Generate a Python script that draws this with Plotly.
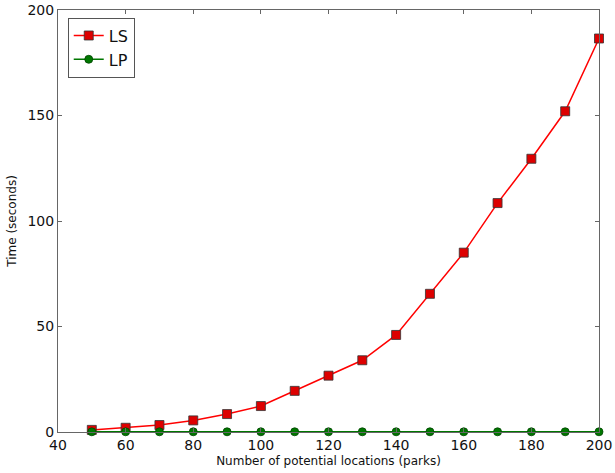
import plotly.graph_objects as go

x = [50, 60, 70, 80, 90, 100, 110, 120, 130, 140, 150, 160, 170, 180, 190, 200]
ls = [1.0, 2.0, 3.3, 5.5, 8.5, 12.3, 19.5, 26.7, 34.0, 46.0, 65.5, 85.0, 108.5, 129.5, 152.0, 186.5]
lp = [0.1] * 16

fig = go.Figure()
fig.add_trace(go.Scatter(x=x, y=ls, name="LS", mode="lines+markers",
                         line=dict(color="#ff0000", width=1.5),
                         marker=dict(symbol="square", size=9, color="#dd0000",
                                     line=dict(color="#333333", width=0.8)),
                         cliponaxis=False))
fig.add_trace(go.Scatter(x=x, y=lp, name="LP", mode="lines+markers",
                         line=dict(color="#007700", width=1.5),
                         marker=dict(symbol="circle", size=8, color="#007700",
                                     line=dict(color="#004400", width=0.8)),
                         cliponaxis=False))

axis_common = dict(showgrid=False, zeroline=False, showline=True, mirror="ticks",
                   linecolor="#666666", linewidth=1, ticks="inside", ticklen=4,
                   tickcolor="#666666", automargin=False,
                   tickfont=dict(family="DejaVu Sans", size=14, color="#111111"))
fig.update_xaxes(range=[40, 200], dtick=20, tick0=40,
                 title=dict(text="Number of potential locations (parks)", standoff=4,
                            font=dict(family="DejaVu Sans", size=12, color="#111111")),
                 **axis_common)
fig.update_yaxes(range=[0, 200], dtick=50,
                 title=dict(text="Time (seconds)", standoff=8,
                            font=dict(family="DejaVu Sans", size=12, color="#111111")),
                 **axis_common)
fig.update_layout(width=615, height=473, margin=dict(l=58, r=16, t=10, b=41),
                  plot_bgcolor="white", paper_bgcolor="white",
                  showlegend=True,
                  legend=dict(x=0.018, y=0.982, xanchor="left", yanchor="top",
                              bgcolor="white", bordercolor="#555555", borderwidth=1,
                              tracegroupgap=2,
                              font=dict(family="DejaVu Sans", size=16, color="#111111")))
fig.write_html("out.html")
